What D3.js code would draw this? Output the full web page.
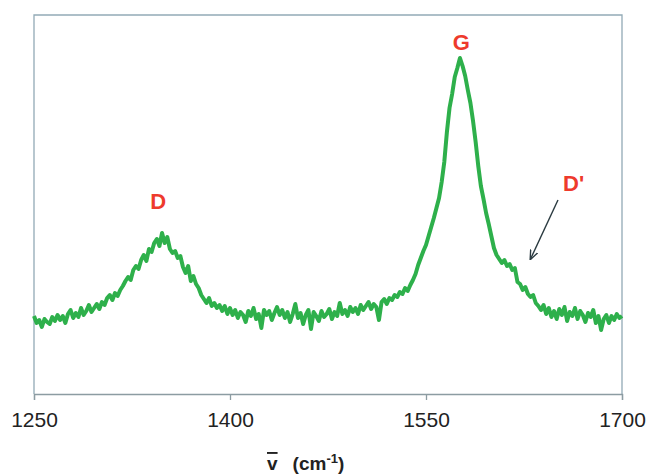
<!DOCTYPE html>
<html>
<head>
<meta charset="utf-8">
<script src="https://cdn.jsdelivr.net/npm/d3@7"></script>
<style>
  body { margin: 0; background: #fff; }
  svg text { font-family: "Liberation Sans", Arial, sans-serif; }
</style>
</head>
<body>
<div id="chart"></div>
<script>
// Raman shift (cm-1), 2 cm-1 step
const shift = d3.range(1250, 1701, 2)

// intensity (arbitrary units)
const intensity = [
  78, 71, 74, 67, 75, 72, 70, 77, 73, 79,
  74, 78, 71, 80, 84, 76, 81, 77, 86, 79,
  83, 89, 82, 86, 90, 85, 92, 89, 96, 99,
  94, 101, 98, 104, 108, 113, 117, 114, 124, 128,
  125, 134, 139, 133, 145, 142, 151, 155, 148, 161,
  151, 157, 145, 141, 143, 136, 138, 127, 121, 128,
  113, 118, 110, 106, 99, 95, 91, 96, 88, 91,
  86, 89, 83, 88, 80, 86, 79, 84, 76, 82,
  79, 72, 83, 78, 86, 75, 80, 66, 84, 79,
  83, 74, 81, 87, 79, 84, 76, 82, 72, 80,
  90, 76, 81, 70, 79, 84, 65, 82, 78, 73,
  83, 77, 80, 85, 75, 82, 78, 91, 80, 84,
  78, 87, 82, 86, 80, 89, 84, 88, 92, 85,
  90, 87, 74, 92, 95, 90, 96, 94, 99, 97,
  102, 100, 106, 103, 109, 114, 120, 129, 136, 143,
  149, 158, 167, 176, 186, 196, 212, 232, 262, 286,
  300, 317, 326, 336, 328, 318, 304, 291, 273, 252,
  228, 208, 195, 181, 170, 158, 146, 139, 135, 131,
  134, 128, 130, 124, 126, 112, 110, 104, 107, 100,
  97, 99, 91, 88, 84, 89, 80, 86, 77, 83,
  75, 85, 79, 87, 73, 82, 78, 86, 75, 83,
  79, 72, 81, 77, 84, 71, 78, 64, 75, 79,
  71, 78, 74, 80, 76,
  78
]

const xTicks = [1250, 1400, 1550, 1700]

// band labels
const bands = ["D", "G", "D'"]
const bandShift = [1345, 1577, 1663]
const bandLevel = [185, 344, 203]

const data = shift.map((s, i) => [s, intensity[i]])

const width = 647
const height = 475
const plotLeft = 34, plotRight = 622, plotTop = 15, plotBottom = 394

const x = d3.scaleLinear().domain([1250, 1700]).range([plotLeft, plotRight])
const y = d3.scaleLinear().domain([0, 379]).range([plotBottom, plotTop])

const svg = d3.select("#chart").append("svg")
  .attr("width", width)
  .attr("height", height)

svg.append("defs").append("marker")
  .attr("id", "head")
  .attr("viewBox", "0 0 10 10")
  .attr("refX", 9).attr("refY", 5)
  .attr("markerWidth", 7).attr("markerHeight", 7)
  .attr("orient", "auto")
  .append("path")
  .attr("d", "M0,1 L10,5 L0,9")
  .attr("fill", "none")
  .attr("stroke", "#2a3a40")
  .attr("stroke-width", 1.4)

// frame
svg.append("path")
  .attr("d", `M${plotLeft},${plotBottom} V${plotTop} H${plotRight} V${plotBottom}`)
  .attr("fill", "none")
  .attr("stroke", "#92aab6")
  .attr("stroke-width", 1.3)

// x axis
const xAxis = svg.append("g")
  .attr("transform", `translate(0,${plotBottom})`)
  .call(d3.axisBottom(x).tickValues(xTicks).tickSize(6).tickPadding(12).tickFormat(d3.format("d")))
xAxis.select(".domain").attr("stroke", "#8c9ca2").attr("stroke-width", 1.3)
xAxis.selectAll(".tick line").attr("stroke", "#8c9ca2").attr("stroke-width", 1.3)
xAxis.selectAll(".tick text")
  .attr("fill", "#222")
  .style("font-size", "21px")
  .style("font-family", "'Liberation Sans', Arial, sans-serif")

// spectrum
svg.append("path")
  .datum(data)
  .attr("fill", "none")
  .attr("stroke", "#2eb04b")
  .attr("stroke-width", 4)
  .attr("stroke-linejoin", "round")
  .attr("d", d3.line().x(d => x(d[0])).y(d => y(d[1])))

// band labels
svg.selectAll(".band")
  .data(bands)
  .enter()
  .append("text")
  .attr("class", "band")
  .attr("x", (d, i) => x(bandShift[i]))
  .attr("y", (d, i) => y(bandLevel[i]))
  .attr("text-anchor", "middle")
  .attr("fill", "#ee3a2c")
  .style("font-size", "22px")
  .style("font-weight", "bold")
  .text(d => d)

// arrow to D'
svg.append("line")
  .attr("x1", x(1651)).attr("y1", y(194))
  .attr("x2", x(1630)).attr("y2", y(135))
  .attr("stroke", "#2a3a40")
  .attr("stroke-width", 1.4)
  .attr("marker-end", "url(#head)")

// axis title
const title = svg.append("text")
  .attr("x", 267)
  .attr("y", 470)
  .attr("fill", "#222")
  .style("font-size", "19px")
  .style("font-weight", "bold")
title.append("tspan").style("text-decoration", "overline").text("v")
title.append("tspan").attr("dx", 15).text("(cm")
title.append("tspan").attr("dy", -7).style("font-size", "13px").text("-1")
title.append("tspan").attr("dy", 7).text(")")
</script>
</body>
</html>
